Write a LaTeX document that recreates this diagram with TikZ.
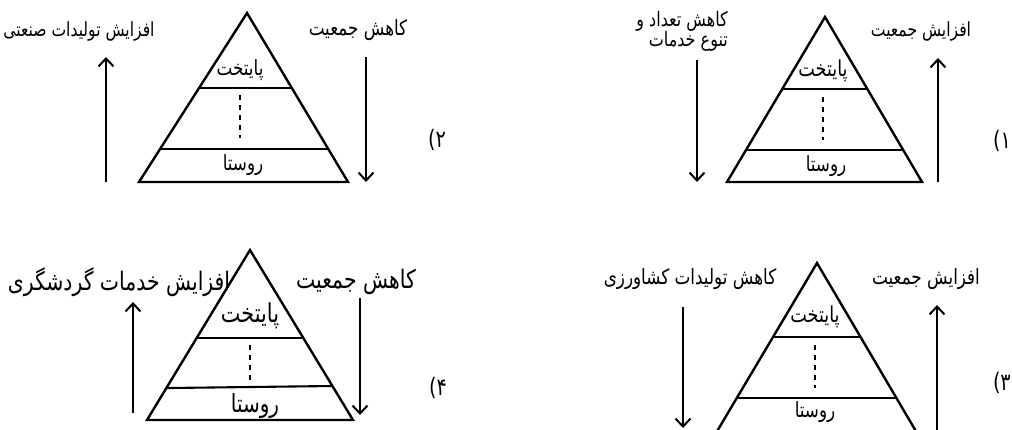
\documentclass[tikz,border=0pt]{standalone}
\usepackage{fontspec}
\newfontfamily\fa[Script=Arabic, FakeStretch=0.8]{DejaVu Sans}
\TeXXeTstate=1
\usetikzlibrary{arrows.meta,calc}
\newcommand\RL[1]{\beginR #1\endR}
\newcommand\fsz[1]{\fa\fontsize{#1}{#1}\selectfont}
\begin{document}
\begin{tikzpicture}[x=1pt,y=-1pt,
  tri/.style={line width=2.4pt, line join=miter},
  band/.style={line width=2.1pt},
  dotline/.style={line width=2.6pt, dash pattern=on 5pt off 5pt},
  flow/.style={line width=2pt, -{Straight Barb[length=8pt,width=15pt]}},
  txt/.style={inner sep=0pt},
  num/.style={font=\fsz{24}, inner sep=0pt}]
\useasboundingbox (0,0) rectangle (1012,429);
\clip (0,0) rectangle (1012,429);

% ---------- Pyramid 1 (top right)
\coordinate (a1) at (825,17); \coordinate (l1) at (727,182); \coordinate (r1) at (922,182);
\draw[tri] (a1) -- (l1) -- (r1) -- cycle;
\draw[band] ($(a1)!0.436!(l1)$) -- ($(a1)!0.436!(r1)$);
\draw[band] ($(a1)!0.806!(l1)$) -- ($(a1)!0.806!(r1)$);
\coordinate (d1a) at (823,97); \coordinate (d1b) at (823,140);
\draw[dotline] (d1a) -- (d1b);
\node[txt, font=\fsz{22}] (cap1) at (823,71) {\RL{پایتخت}};
\node[txt, font=\fsz{21}] (vil1) at (826,166) {\RL{روستا}};
\coordinate (f1a) at (697,60); \coordinate (f1b) at (697,182);
\draw[flow] (f1a) -- (f1b);
\coordinate (g1a) at (938,182); \coordinate (g1b) at (938,58);
\draw[flow] (g1a) -- (g1b);
\node[txt, font=\fsz{20}, align=right, anchor=east] (lab1a) at (728,31)
  {\RL{کاهش تعداد و}\\[-1pt]\RL{تنوع خدمات}};
\node[txt, font=\fsz{19.5}] (lab1b) at (921,31) {\RL{افزایش جمعیت}};
\node[num] (n1) at (1002,141) {\RL{۱)}};

% ---------- Pyramid 2 (top left)
\coordinate (a2) at (247,13); \coordinate (l2) at (139,182); \coordinate (r2) at (348,182);
\draw[tri] (a2) -- (l2) -- (r2) -- cycle;
\draw[band] ($(a2)!0.444!(l2)$) -- ($(a2)!0.444!(r2)$);
\draw[band] ($(a2)!0.805!(l2)$) -- ($(a2)!0.805!(r2)$);
\coordinate (d2a) at (240,95); \coordinate (d2b) at (240,138);
\draw[dotline] (d2a) -- (d2b);
\node[txt, font=\fsz{21}] (cap2) at (240,70) {\RL{پایتخت}};
\node[txt, font=\fsz{21}] (vil2) at (243,165) {\RL{روستا}};
\coordinate (f2a) at (106,182); \coordinate (f2b) at (106,57);
\draw[flow] (f2a) -- (f2b);
\coordinate (g2a) at (366,57); \coordinate (g2b) at (366,182);
\draw[flow] (g2a) -- (g2b);
\node[txt, font=\fsz{19.5}] (lab2a) at (79,31) {\RL{افزایش تولیدات صنعتی}};
\node[txt, font=\fsz{21}] (lab2b) at (358,30) {\RL{کاهش جمعیت}};
\node[num] (n2) at (437,140) {\RL{۲)}};

% ---------- Pyramid 3 (bottom right)
\coordinate (a3) at (817,263); \coordinate (l3) at (716,433); \coordinate (r3) at (917,433);
\draw[tri] (a3) -- (l3) -- (r3) -- cycle;
\draw[band] ($(a3)!0.435!(l3)$) -- ($(a3)!0.435!(r3)$);
\draw[band] ($(a3)!0.794!(l3)$) -- ($(a3)!0.794!(r3)$);
\coordinate (d3a) at (815,345); \coordinate (d3b) at (815,388);
\draw[dotline] (d3a) -- (d3b);
\node[txt, font=\fsz{22}] (cap3) at (815,317) {\RL{پایتخت}};
\node[txt, font=\fsz{21}] (vil3) at (815,412) {\RL{روستا}};
\coordinate (f3a) at (683,307); \coordinate (f3b) at (683,428);
\draw[flow] (f3a) -- (f3b);
\coordinate (g3a) at (937,432); \coordinate (g3b) at (937,305);
\draw[flow] (g3a) -- (g3b);
\node[txt, font=\fsz{21}] (lab3a) at (690,279) {\RL{کاهش تولیدات کشاورزی}};
\node[txt, font=\fsz{21}] (lab3b) at (926,279) {\RL{افزایش جمعیت}};
\node[num, anchor=east] (n3) at (1011,383) {\RL{۳)}};

% ---------- Pyramid 4 (bottom left)
\coordinate (a4) at (250,250); \coordinate (l4) at (147,420); \coordinate (r4) at (353,420);
\draw[tri] (a4) -- (l4) -- (r4) -- cycle;
\draw[band] ($(a4)!0.518!(l4)$) -- ($(a4)!0.518!(r4)$);
\draw[band] ($(a4)!0.812!(l4)$) -- ($(a4)!0.800!(r4)$);
\coordinate (d4a) at (250,345); \coordinate (d4b) at (250,383);
\draw[dotline] (d4a) -- (d4b);
\node[txt, font=\fsz{26}] (cap4) at (250,316) {\RL{پایتخت}};
\node[txt, font=\fsz{25}] (vil4) at (255,406) {\RL{روستا}};
\coordinate (f4a) at (133,413); \coordinate (f4b) at (133,302);
\draw[flow] (f4a) -- (f4b);
\coordinate (g4a) at (360,298); \coordinate (g4b) at (360,415);
\draw[flow] (g4a) -- (g4b);
\node[txt, font=\fsz{25.5}] (lab4a) at (119,282) {\RL{افزایش خدمات گردشگری}};
\node[txt, font=\fsz{25.5}] (lab4b) at (356,282) {\RL{کاهش جمعیت}};
\node[num] (n4) at (438,388) {\RL{۴)}};
\end{tikzpicture}
\end{document}
